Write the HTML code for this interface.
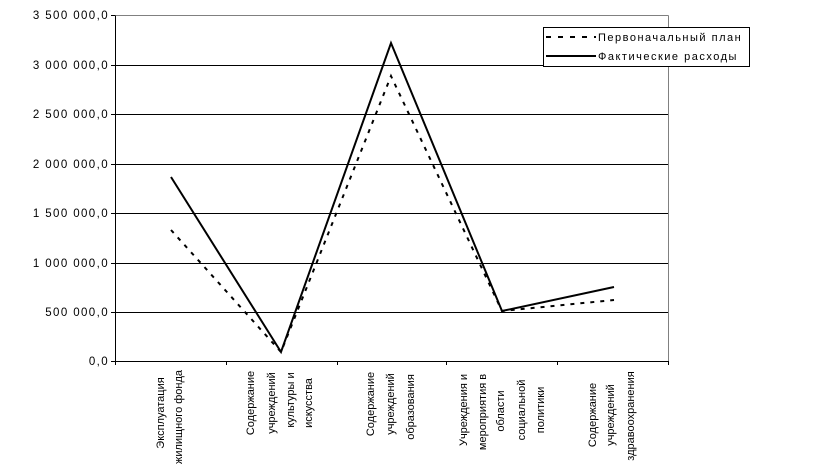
<!DOCTYPE html>
<html><head><meta charset="utf-8"><style>
html,body{margin:0;padding:0;background:#fff;}
svg{display:block;font-family:"Liberation Sans",Arial,sans-serif;}
</style></head><body>
<svg width="823" height="470" viewBox="0 0 823 470" xmlns="http://www.w3.org/2000/svg">
<rect width="823" height="470" fill="#fff"/>
<g stroke="#000" stroke-width="1">
<line x1="115.5" y1="65.5" x2="668" y2="65.5"/>
<line x1="115.5" y1="114.5" x2="668" y2="114.5"/>
<line x1="115.5" y1="164.5" x2="668" y2="164.5"/>
<line x1="115.5" y1="213.5" x2="668" y2="213.5"/>
<line x1="115.5" y1="263.5" x2="668" y2="263.5"/>
<line x1="115.5" y1="312.5" x2="668" y2="312.5"/>
<line x1="115.5" y1="361.5" x2="668" y2="361.5"/>
<line x1="115.5" y1="15" x2="115.5" y2="365"/>
<line x1="111" y1="15.5" x2="115.5" y2="15.5"/>
<line x1="111" y1="65.5" x2="115.5" y2="65.5"/>
<line x1="111" y1="114.5" x2="115.5" y2="114.5"/>
<line x1="111" y1="164.5" x2="115.5" y2="164.5"/>
<line x1="111" y1="213.5" x2="115.5" y2="213.5"/>
<line x1="111" y1="263.5" x2="115.5" y2="263.5"/>
<line x1="111" y1="312.5" x2="115.5" y2="312.5"/>
<line x1="111" y1="361.5" x2="115.5" y2="361.5"/>
<line x1="226.5" y1="361" x2="226.5" y2="365"/>
<line x1="337.5" y1="361" x2="337.5" y2="365"/>
<line x1="446.5" y1="361" x2="446.5" y2="365"/>
<line x1="557.5" y1="361" x2="557.5" y2="365"/>
<line x1="668.5" y1="361" x2="668.5" y2="365"/>
</g>
<g stroke="#808080" stroke-width="1">
<line x1="115.5" y1="15.5" x2="668.5" y2="15.5"/>
<line x1="668.5" y1="15.5" x2="668.5" y2="361"/>
</g>
<g font-size="11.5" text-anchor="end" fill="#000" letter-spacing="1.4">
<text x="109" y="19">3 500 000,0</text>
<text x="109" y="69">3 000 000,0</text>
<text x="109" y="118">2 500 000,0</text>
<text x="109" y="168">2 000 000,0</text>
<text x="109" y="217">1 500 000,0</text>
<text x="109" y="267">1 000 000,0</text>
<text x="109" y="316">500 000,0</text>
<text x="109" y="365">0,0</text>
</g>
<polyline points="171,177 281,352 391,43 502,311 614,287" fill="none" stroke="#000" stroke-width="2"/>
<polyline points="171,230 281,352 391,76 502,311 614,300" fill="none" stroke="#000" stroke-width="2" stroke-dasharray="4,6"/>
<g font-size="11" text-anchor="middle" fill="#000">
<text transform="translate(164,413) rotate(-90)">Эксплуатация</text>
<text transform="translate(182,417) rotate(-90)">жилищного фонда</text>
<text transform="translate(254,403) rotate(-90)">Содержание</text>
<text transform="translate(275,403) rotate(-90)">учреждений</text>
<text transform="translate(294,400) rotate(-90)">культуры и</text>
<text transform="translate(312,403) rotate(-90)">искусства</text>
<text transform="translate(374,404) rotate(-90)">Содержание</text>
<text transform="translate(394,404) rotate(-90)">учреждений</text>
<text transform="translate(414,407) rotate(-90)">образования</text>
<text transform="translate(467,410) rotate(-90)">Учреждения и</text>
<text transform="translate(486,412) rotate(-90)">мероприятия в</text>
<text transform="translate(504,411) rotate(-90)">области</text>
<text transform="translate(525,410) rotate(-90)">социальной</text>
<text transform="translate(544,410) rotate(-90)">политики</text>
<text transform="translate(596,415) rotate(-90)">Содержание</text>
<text transform="translate(614,415) rotate(-90)">учреждений</text>
<text transform="translate(634,416) rotate(-90)">здравоохранения</text>
</g>
<rect x="543.5" y="27.5" width="206" height="39" fill="#fff" stroke="#000" stroke-width="1"/>
<line x1="546" y1="37" x2="596" y2="37" stroke="#000" stroke-width="2" stroke-dasharray="5,7"/>
<line x1="546" y1="56" x2="596" y2="56" stroke="#000" stroke-width="2"/>
<g font-size="11" fill="#000" letter-spacing="1.5">
<text x="598" y="41">Первоначальный план</text>
<text x="598" y="60">Фактические расходы</text>
</g>
</svg>
</body></html>
